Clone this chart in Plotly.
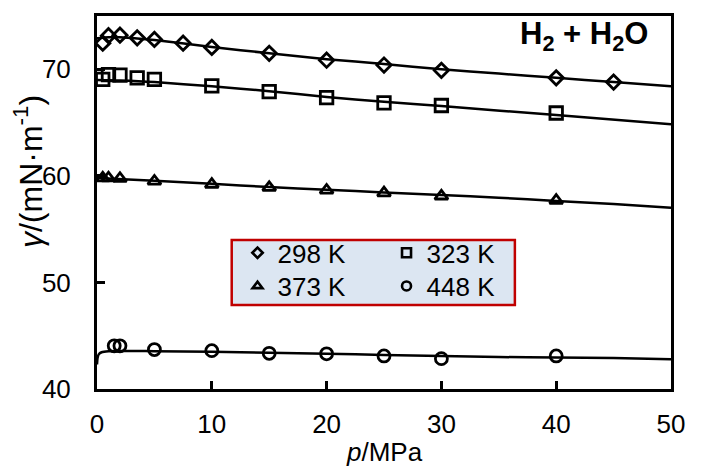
import plotly.graph_objects as go

# ---------------- data ----------------
# experimental points
p_298 = [0.5, 1, 2, 3.5, 5, 7.5, 10, 15, 20, 25, 30, 40, 45]
g_298 = [72.45, 73.15, 73.2, 72.95, 72.8, 72.45, 72.05, 71.5, 70.85, 70.4, 69.9, 69.2, 68.8]

p_323 = [0.5, 1, 2, 3.5, 5, 10, 15, 20, 25, 30, 40]
g_323 = [69.05, 69.5, 69.45, 69.2, 69.05, 68.45, 67.9, 67.35, 66.85, 66.6, 65.9]

p_373 = [0.5, 1, 2, 5, 10, 15, 20, 25, 30, 40]
g_373 = [59.8, 59.8, 59.75, 59.5, 59.2, 58.9, 58.65, 58.4, 58.1, 57.7]

p_448 = [1.5, 2, 5, 10, 15, 20, 25, 30, 40]
g_448 = [44.05, 44.05, 43.7, 43.6, 43.35, 43.3, 43.1, 42.85, 43.1]

# model curves
pf_298 = [0, 1, 2, 3.5, 5, 10, 15, 20, 25, 30, 35, 40, 45, 50]
gf_298 = [72.9, 73.0, 73.0, 72.9, 72.75, 72.1, 71.5, 70.95, 70.5, 70.0, 69.6, 69.2, 68.8, 68.4]

pf_323 = [0, 2, 5, 10, 15, 20, 25, 30, 40, 50]
gf_323 = [69.0, 68.95, 68.8, 68.4, 67.95, 67.4, 66.95, 66.55, 65.7, 64.85]

pf_373 = [0, 5, 10, 15, 20, 25, 30, 35, 40, 45, 50]
gf_373 = [59.8, 59.55, 59.25, 58.95, 58.7, 58.45, 58.2, 57.95, 57.65, 57.35, 57.0]

pf_448 = [0, 0.05, 0.15, 0.4, 1, 5, 10, 15, 20, 25, 30, 35, 40, 45, 50]
gf_448 = [42.3, 42.9, 43.25, 43.45, 43.55, 43.55, 43.5, 43.4, 43.3, 43.2, 43.1, 43.0, 42.95, 42.9, 42.8]

series_names = ["298 K", "323 K", "373 K", "448 K"]
x_ticks = [0, 10, 20, 30, 40, 50]
y_ticks = [40, 50, 60, 70]

FONT = "Arial, Liberation Sans, sans-serif"

fig = go.Figure()

for px_, gy_ in [(pf_298, gf_298), (pf_323, gf_323), (pf_373, gf_373), (pf_448, gf_448)]:
    fig.add_trace(go.Scatter(
        x=px_, y=gy_, mode="lines",
        line=dict(color="black", width=2.5, shape="spline", smoothing=0.6),
        showlegend=False, hoverinfo="skip"))

marker_specs = [
    (p_298, g_298, series_names[0], "diamond-open", 11, 8, "legend"),
    (p_323, g_323, series_names[1], "square-open", 12.5, 9, "legend2"),
    (p_373, g_373, series_names[2], "triangle-up-open", 11.5, 8.5, "legend3"),
    (p_448, g_448, series_names[3], "circle-open", 12, 9, "legend4"),
]
for px_, gy_, nm, sym, sz, lsz, lg in marker_specs:
    fig.add_trace(go.Scatter(
        x=px_, y=gy_, mode="markers", name=nm, showlegend=False,
        marker=dict(symbol=sym, size=sz, color="black",
                    line=dict(color="black", width=2.8))))
    # legend entry with the smaller key symbol used in the original legend
    fig.add_trace(go.Scatter(
        x=[None], y=[None], mode="markers", name=nm, legend=lg,
        marker=dict(symbol=sym, size=lsz, color="black",
                    line=dict(color="black", width=2.6))))

axis_common = dict(
    showline=True, linewidth=3, linecolor="black", mirror=True,
    ticks="inside", ticklen=8, tickwidth=2.5, tickcolor="black",
    showgrid=False, zeroline=False, automargin=False,
    tickfont=dict(family=FONT, size=26, color="black"),
)

legend_common = dict(xanchor="left", yanchor="middle",
                     bgcolor="rgba(0,0,0,0)", borderwidth=0,
                     font=dict(family=FONT, size=26, color="black"))

# page body has an 8px margin, so the figure is sized/offset to land on the 709x472 window
fig.update_layout(
    width=701, height=464,
    margin=dict(l=89, r=38, t=8, b=83),
    paper_bgcolor="white", plot_bgcolor="white",
    font=dict(family=FONT, color="black"),
    xaxis=dict(range=[0, 50], tickvals=x_ticks, ticklabelstandoff=10, **axis_common),
    yaxis=dict(range=[40, 75], tickvals=y_ticks, ticklabelstandoff=18, **axis_common),
    legend=dict(x=0.2448, y=0.365, **legend_common),
    legend2=dict(x=0.5044, y=0.365, **legend_common),
    legend3=dict(x=0.2448, y=0.276, **legend_common),
    legend4=dict(x=0.5044, y=0.276, **legend_common),
    shapes=[dict(type="rect", xref="paper", yref="paper",
                 x0=0.2347, x1=0.728, y0=0.2252, y1=0.3995,
                 fillcolor="#DCE6F2", line=dict(color="#C00000", width=2.5),
                 layer="below")],
    annotations=[
        dict(text="<b>H<sub>2</sub> + H<sub>2</sub>O</b>", xref="paper", yref="paper",
             x=0.963, y=0.946, xanchor="right", yanchor="middle", showarrow=False,
             font=dict(family=FONT, size=31, color="black")),
        dict(text="<i>γ</i>/(mN·m<sup>-1</sup>)", xref="paper", yref="paper",
             x=-0.12, y=0.582, xanchor="center", yanchor="middle", textangle=-90,
             showarrow=False, font=dict(family=FONT, size=32, color="black")),
        dict(text="<i>p</i>/MPa", xref="paper", yref="paper",
             x=0.5, y=-0.169, xanchor="center", yanchor="middle", showarrow=False,
             font=dict(family=FONT, size=26, color="black")),
    ],
)

fig.write_html("out.html")
